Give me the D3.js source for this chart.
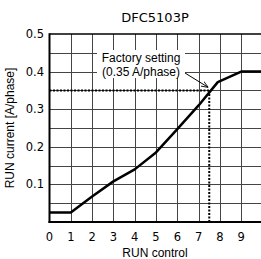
<!DOCTYPE html>
<html lang="en">
<head>
<meta charset="UTF-8" />
<title>DFC5103P</title>
<script src="https://d3js.org/d3.v7.min.js"></script>
<style>
  body { margin: 0; background: #fff; }
  svg { display: block; }
</style>
</head>
<body>
<svg id="chart" width="261" height="259"></svg>
<script>
// data
const runControl = [0, 1, 2, 3, 4, 5, 6, 7, 7.9, 9, 10];
const runCurrent = [0.025, 0.025, 0.068, 0.108, 0.14, 0.185, 0.247, 0.31, 0.372, 0.4, 0.4];
const xTicks = [0, 1, 2, 3, 4, 5, 6, 7, 8, 9];
const yTicks = [0.1, 0.2, 0.3, 0.4, 0.5];
const factorySetting = { control: 7.5, current: 0.35 };

const svg = d3.select("#chart");
const plotLeft = 49.5, plotRight = 262.5, plotTop = 34, plotBottom = 222;

const x = d3.scaleLinear().domain([0, 10]).range([plotLeft, plotRight]);
const y = d3.scaleLinear().domain([0, 0.5]).range([plotBottom, plotTop]);

const numFont = "'DejaVu Sans', sans-serif";
const labelFont = "'Liberation Sans', Arial, sans-serif";

// grid
const grid = svg.append("g").attr("shape-rendering", "crispEdges");
d3.range(1, 10).forEach((v) => {
  grid.append("line")
    .attr("x1", Math.round(x(v)) + 0.5).attr("x2", Math.round(x(v)) + 0.5)
    .attr("y1", plotTop).attr("y2", plotBottom)
    .attr("stroke", "#444").attr("stroke-width", 1);
});
d3.range(1, 10).forEach((i) => {
  const v = i * 0.05;
  grid.append("line")
    .attr("x1", plotLeft).attr("x2", plotRight)
    .attr("y1", Math.round(y(v)) + 0.5).attr("y2", Math.round(y(v)) + 0.5)
    .attr("stroke", "#444").attr("stroke-width", 1);
});

// frame
svg.append("line").attr("x1", plotLeft).attr("x2", plotRight)
  .attr("y1", plotTop).attr("y2", plotTop).attr("stroke", "#000").attr("stroke-width", 1.5);
svg.append("line").attr("x1", plotLeft).attr("x2", plotLeft)
  .attr("y1", plotTop - 0.75).attr("y2", plotBottom + 1).attr("stroke", "#000").attr("stroke-width", 2);
svg.append("line").attr("x1", plotLeft - 1).attr("x2", plotRight)
  .attr("y1", plotBottom).attr("y2", plotBottom).attr("stroke", "#000").attr("stroke-width", 2);

// factory setting dashed lines
svg.append("line")
  .attr("x1", x(0)).attr("x2", x(factorySetting.control))
  .attr("y1", y(factorySetting.current)).attr("y2", y(factorySetting.current))
  .attr("stroke", "#000").attr("stroke-width", 2).attr("stroke-dasharray", "2 1.5");
svg.append("line")
  .attr("x1", x(factorySetting.control)).attr("x2", x(factorySetting.control))
  .attr("y1", y(factorySetting.current)).attr("y2", y(0))
  .attr("stroke", "#000").attr("stroke-width", 2).attr("stroke-dasharray", "2 1.5");

// annotation
const ann = svg.append("g").attr("font-family", labelFont).attr("font-size", 12).attr("text-anchor", "middle");
ann.append("rect").attr("x", 97).attr("y", 50).attr("width", 88).attr("height", 28).attr("fill", "#fff");
ann.append("text").attr("x", 141).attr("y", 62).text("Factory setting");
ann.append("text").attr("x", 141).attr("y", 76).text("(0.35 A/phase)");

svg.append("defs").append("marker")
  .attr("id", "arrow").attr("viewBox", "0 0 10 10")
  .attr("refX", 10).attr("refY", 5)
  .attr("markerWidth", 7).attr("markerHeight", 7)
  .attr("orient", "auto")
  .append("path").attr("d", "M0,1 L10,5 L0,9").attr("fill", "none").attr("stroke", "#000").attr("stroke-width", 1.2);
svg.append("line")
  .attr("x1", 185).attr("y1", 73)
  .attr("x2", x(factorySetting.control) - 1).attr("y2", y(factorySetting.current) - 3)
  .attr("stroke", "#000").attr("stroke-width", 1)
  .attr("marker-end", "url(#arrow)");

// curve
const pts = runControl.map((c, i) => [c, runCurrent[i]]);
svg.append("path")
  .datum(pts)
  .attr("d", d3.line().x((d) => x(d[0])).y((d) => y(d[1])))
  .attr("fill", "none").attr("stroke", "#000").attr("stroke-width", 2.5)
  .attr("stroke-linejoin", "round");

// tick labels
svg.append("g").selectAll("text").data(xTicks).join("text")
  .attr("x", (d) => x(d)).attr("y", 241)
  .attr("text-anchor", "middle")
  .attr("font-family", numFont).attr("font-size", 11.5)
  .text((d) => d);
svg.append("g").selectAll("text").data(yTicks).join("text")
  .attr("x", 44).attr("y", (d) => y(d) + 4)
  .attr("text-anchor", "end")
  .attr("font-family", numFont).attr("font-size", 11.5)
  .text((d) => d3.format(".1f")(d));

// titles
svg.append("text").attr("x", 155).attr("y", 22)
  .attr("text-anchor", "middle").attr("font-family", numFont).attr("font-size", 13)
  .text("DFC5103P");
svg.append("text").attr("x", 155).attr("y", 257)
  .attr("text-anchor", "middle").attr("font-family", labelFont).attr("font-size", 12)
  .text("RUN control");
svg.append("text")
  .attr("transform", "translate(14,128) rotate(-90)")
  .attr("text-anchor", "middle").attr("font-family", labelFont).attr("font-size", 12)
  .text("RUN current [A/phase]");
</script>
</body>
</html>
